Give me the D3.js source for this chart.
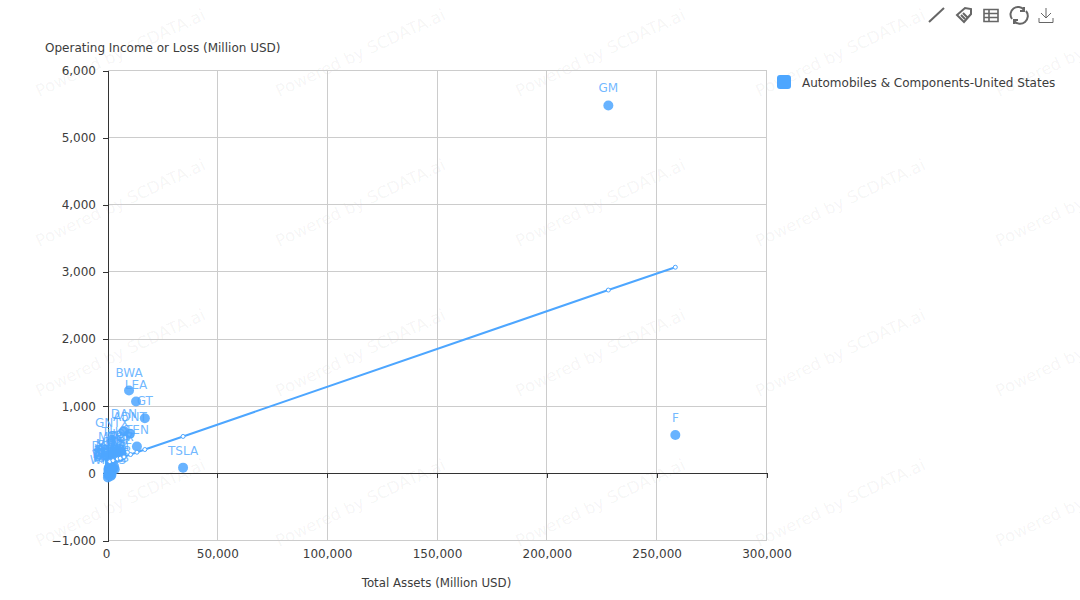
<!DOCTYPE html>
<html><head><meta charset="utf-8">
<script src="https://cdn.jsdelivr.net/npm/d3@7/dist/d3.min.js"></script>
<style>html,body{margin:0;padding:0;background:#fff}svg{display:block;font-family:"DejaVu Sans",sans-serif}</style>
</head><body><svg id="c" width="1080" height="600"></svg>
<script>
const seriesName = "Automobiles & Components-United States";
const xTitle = "Total Assets (Million USD)";
const yTitle = "Operating Income or Loss (Million USD)";
const xTicks = [0,50000,100000,150000,200000,250000,300000];
const yTicks = [-1000,0,1000,2000,3000,4000,5000,6000];
const tickers = ["GM","F","TSLA","BWA","LEA","GT","DAN","ADNT","TEN","GNTX","THO","HOG","ALV","VC","CTB","CPS","AXL","MOD","SMP","DORM","LCII","WGO","FOXF","SHYF","STRT","SUP","MPAA","TWI","TOWR","GTX","THRM","WNC","SRI","VOXX","UFAB","MOTS","KNDI","WKHS","NIO","XL","MTOR","PATK","CVGI","TSC","DAKT"];
const assets = [228000,258500,34400,9800,13000,17000,7500,10200,13400,2000,3300,6000,6400,4500,2800,5000,5500,1300,1100,1200,1500,1000,800,500,450,1000,700,1100,2600,3300,1000,1700,900,600,300,1800,400,200,1500,900,3800,1400,600,3000,2200];
const income = [5480,570,85,1235,1070,820,630,590,400,500,370,330,290,260,220,300,240,190,170,150,130,110,90,70,50,60,30,40,80,60,20,10,5,0,-5,-20,-30,-60,-40,-10,290,100,15,100,50];
const trendAssets = [1000,2500,4500,5800,7500,10500,13400,17000,34400,228000,258500];
const trendIncome = [175,190,215,225,245,280,315,355,550,2730,3070];

const svg = d3.select("#c");
const x = d3.scaleLinear().domain([0,300000]).range([107.5,766.5]);
const y = d3.scaleLinear().domain([-1000,6000]).range([540.5,70.5]);
const fmt = d3.format(",");
const blue = "#4da6ff";
const ink = "#3c3c3c";

// watermark
const wmX = [39,279,519,759,999], wmY = [97,247,397,547];
const wm = svg.append("g");
wmY.forEach(b => wmX.forEach(a => wm.append("text").attr("transform",`translate(${a},${b}) rotate(-25)`)
  .attr("font-size",16.5).attr("fill","#000").attr("fill-opacity",0.05).text("Powered by SCDATA.ai")));

// grid
const grid = svg.append("g").attr("stroke","#ccc").attr("shape-rendering","crispEdges");
xTicks.slice(1).forEach(t => grid.append("line").attr("x1",x(t)).attr("x2",x(t)).attr("y1",y(6000)).attr("y2",y(-1000)));
yTicks.forEach(t => grid.append("line").attr("x1",x(0)).attr("x2",x(300000)).attr("y1",y(t)).attr("y2",y(t)));

// axes
const yAxis = svg.append("g").attr("transform",`translate(${x(0)},0)`).call(d3.axisLeft(y).tickValues(yTicks).tickFormat(fmt).tickSize(5).tickPadding(6.5));
const xAxis = svg.append("g").attr("transform",`translate(0,${y(0)})`).call(d3.axisBottom(x).tickValues(xTicks).tickFormat(fmt).tickSize(5));
[yAxis,xAxis].forEach(a=>{a.select(".domain").attr("stroke","#333").attr("shape-rendering","crispEdges");
  a.selectAll("line").attr("stroke","#333").attr("shape-rendering","crispEdges");
  a.selectAll("text").attr("fill",ink).attr("font-size",12).attr("font-family","DejaVu Sans");});
xAxis.selectAll("text").attr("y",y(-1000)-y(0)+9).attr("dy","0.71em");
xAxis.selectAll(".tick").filter(d=>d===0).select("text").attr("dx",-1.5);

svg.append("text").attr("x",45).attr("y",52).attr("font-size",12).attr("fill",ink).text(yTitle);
svg.append("text").attr("x",436.5).attr("y",587).attr("text-anchor","middle").attr("font-size",11.8).attr("fill",ink).text(xTitle);

// points
svg.append("g").selectAll("circle").data(assets).join("circle")
  .attr("cx",d=>x(d)).attr("cy",(d,i)=>y(income[i])).attr("r",5).attr("fill",blue).attr("fill-opacity",0.85);
svg.append("g").selectAll("text").data(tickers).join("text")
  .attr("x",(d,i)=>x(assets[i])).attr("y",(d,i)=>y(income[i])-13).attr("text-anchor","middle")
  .attr("font-size",12).attr("fill",blue).attr("fill-opacity",0.8).text(d=>d);

// trend
svg.append("path").datum(d3.range(trendAssets.length)).attr("fill","none").attr("stroke",blue).attr("stroke-width",2)
  .attr("d",d3.line().x(i=>x(trendAssets[i])).y(i=>y(trendIncome[i])));
svg.append("g").selectAll("circle").data(trendAssets).join("circle")
  .attr("cx",d=>x(d)).attr("cy",(d,i)=>y(trendIncome[i])).attr("r",2).attr("fill","#fff").attr("stroke",blue);

// legend
svg.append("rect").attr("x",777).attr("y",75).attr("width",14).attr("height",14).attr("rx",3).attr("fill",blue);
svg.append("text").attr("x",802).attr("y",87).attr("font-size",12).attr("fill",ink).text(seriesName);

// toolbox icons
const ic = svg.append("g").attr("fill","none").attr("stroke","#666").attr("stroke-width",1.6);
ic.append("path").attr("d","M929 22L944 8").attr("stroke-width",2);
ic.append("path").attr("stroke-width",2).attr("d","M957 15L965 8L971 9L971 14L964 22Z M961 15l4 4 M963 13l4 4");
ic.append("path").attr("d","M984 9.5H998V21.5H984Z M984 13.5H998 M984 17.5H998 M989 9.5V21.5");
ic.append("path").attr("stroke-width",2).attr("d","M1012 19A7.5 7.5 0 0 1 1024 10M1026 11A7.5 7.5 0 0 1 1014 21M1024 7V11H1020M1014 24V20H1018");
ic.append("path").attr("stroke-width",1).attr("d","M1046 8V18M1041 13L1046 18L1051 13M1039 18V22.5H1053V18");
</script></body></html>
